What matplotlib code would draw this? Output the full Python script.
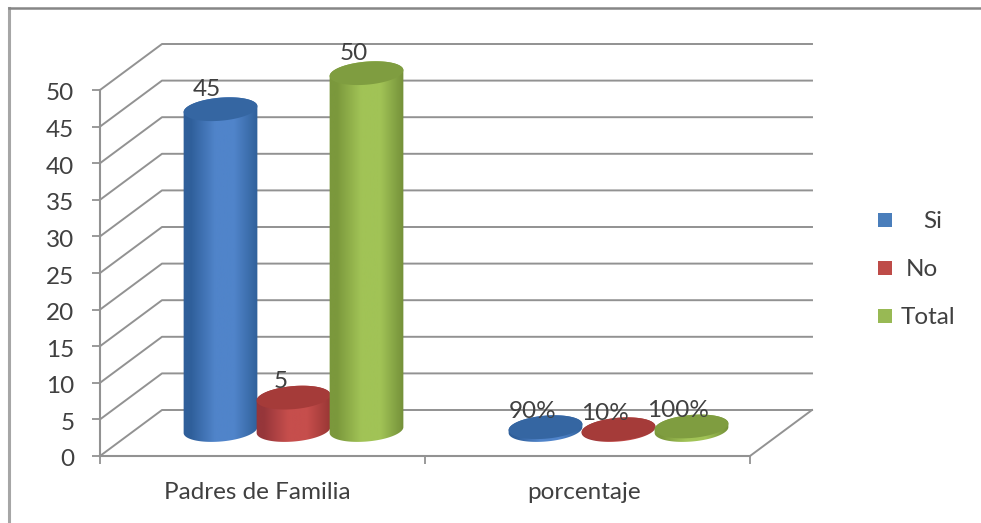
import numpy as np
import matplotlib
matplotlib.use("Agg")
import matplotlib.pyplot as plt
from matplotlib.colors import LinearSegmentedColormap
from matplotlib.lines import Line2D
from matplotlib.patches import Polygon, Rectangle
from matplotlib.transforms import ScaledTranslation

plt.rcParams["font.family"] = ["Lato", "DejaVu Sans"]

categories = ["Padres de Familia", "porcentaje"]
series_names = ["Si", "No", "Total"]
si_values = [45, 0.9]
no_values = [5, 0.1]
total_values = [50, 1.0]
si_labels = ["45", "90%"]
no_labels = ["5", "10%"]
total_labels = ["50", "100%"]
y_ticks = list(range(0, 55, 5))

W, H = 981, 523
text_color = "#404040"
grid_color = "#929292"

# colours: edge, middle, edge, top ellipse, legend
blue = ["#2f5f9a", "#5084ca", "#2f5f98", "#3566a2", "#4a7ebb"]
red = ["#96363a", "#c64e4c", "#963533", "#a53b39", "#be4b48"]
green = ["#7b983c", "#a1c356", "#728e38", "#7f9d40", "#98b954"]

fig = plt.figure(figsize=(W / 100, H / 100), dpi=100)
fig.patch.set_facecolor("white")
# the picture only shows the top and left sides of the chart border
fig.add_artist(Line2D([9 / W, 9 / W], [1 - 8 / H, 1 - 521 / H], transform=fig.transFigure,
                      color="#a6a6a6", linewidth=2.2))
fig.add_artist(Line2D([9 / W, 1], [1 - 8 / H, 1 - 8 / H], transform=fig.transFigure,
                      color="#868686", linewidth=1.8))

# front plane of the 3d box
ax = fig.add_axes([100 / W, 1 - 456 / H, 650 / W, 366 / H])
ax.set_xlim(0, 2)
ax.set_ylim(0, 50)
ax.patch.set_alpha(0)
px_x = 2 / 650   # data units for one pixel
px_y = 50 / 366
depth_x = 62 * px_x
depth_y = 46 * px_y

for s in ["top", "right"]:
    ax.spines[s].set_visible(False)
for s in ["left", "bottom"]:
    ax.spines[s].set_color(grid_color)
    ax.spines[s].set_linewidth(1.5)
ax.spines["bottom"].set_bounds(0, 2)
ax.set_yticks(y_ticks)
ax.set_xticks([0, 1, 2])
ax.set_xticklabels([])
ax.set_xticks([0.485, 1.49], categories, minor=True)
ax.tick_params(axis="y", length=5.5, width=1.3, color=grid_color, labelcolor=text_color,
               labelsize=17.5, pad=13)
ax.tick_params(axis="x", which="major", length=6, width=1.3, color=grid_color)
ax.tick_params(axis="x", which="minor", length=0, labelcolor=text_color, labelsize=17.5, pad=19)
shift_down = ScaledTranslation(0, -2 / 100, fig.dpi_scale_trans)
for lab in ax.get_yticklabels():
    lab.set_transform(lab.get_transform() + shift_down)

# back wall and side lines
for v in y_ticks:
    ax.plot([0, depth_x, 2 + depth_x], [v, v + depth_y, v + depth_y], color=grid_color,
            linewidth=1.4, clip_on=False, zorder=1)
ax.plot([2, 2 + depth_x], [0, depth_y], color=grid_color, linewidth=1.4, clip_on=False, zorder=1)


def ellipse(cx, cy, t):
    # tilted ellipse, sizes given in pixels then turned into data units
    a, b, tilt = 37, 11.5, np.radians(5)
    ex = a * np.cos(t) * np.cos(tilt) - b * np.sin(t) * np.sin(tilt)
    ey = a * np.cos(t) * np.sin(tilt) + b * np.sin(t) * np.cos(tilt)
    return cx + ex * px_x, cy + ey * px_y


def cylinder(cx, value, cols):
    # the columns stand a little short of the gridlines in the original
    base_y = depth_y / 2 + 3 * px_y
    top_y = base_y + value * 0.985 - 0.5
    if top_y < base_y + 0.1:
        top_y = base_y + 0.1
    t1 = np.linspace(np.pi, 2 * np.pi, 60)
    t2 = np.linspace(0, np.pi, 60)
    xb, yb = ellipse(cx, base_y, t1)
    xt, yt = ellipse(cx, top_y, t2)
    body = Polygon(np.column_stack([np.r_[xb, xt], np.r_[yb, yt]]), closed=True, facecolor="none",
                   edgecolor="none", transform=ax.transData, clip_on=False, zorder=3)
    ax.add_patch(body)
    cmap = LinearSegmentedColormap.from_list("c", [(0, cols[0]), (0.1, cols[0]), (0.42, cols[1]),
                                                   (0.68, cols[1]), (1, cols[2])])
    grad = np.linspace(0, 1, 128).reshape(1, -1)
    w = 38 * px_x
    im = ax.imshow(grad, cmap=cmap, aspect="auto", zorder=3,
                   extent=[cx - w, cx + w, base_y - 14 * px_y, top_y + 14 * px_y])
    im.set_clip_box(fig.bbox)
    im.set_clip_path(body)
    t = np.linspace(0, 2 * np.pi, 120)
    xe, ye = ellipse(cx, top_y, t)
    ax.fill(xe, ye, color=cols[3], clip_on=False, zorder=3, linewidth=0)
    return top_y


all_values = [si_values, no_values, total_values]
all_labels = [si_labels, no_labels, total_labels]
all_cols = [blue, red, green]
offsets = [-73 * px_x, 0, 73 * px_x]

for i in range(len(series_names)):
    for j in range(len(categories)):
        cx = j + 0.5 + depth_x / 2 + offsets[i]
        val = all_values[i][j]
        top = cylinder(cx, val, all_cols[i])
        ax.annotate(all_labels[i][j], (cx, top),
                    xytext=(-9.5, (16 + val * 0.08) * 0.72), textcoords="offset points",
                    ha="center", va="center", fontsize=17.5, color=text_color, zorder=5,
                    annotation_clip=False)
ax.set_xlim(0, 2)
ax.set_ylim(0, 50)

# legend
legend_y = [220, 268, 316]
legend_x = [933, 922, 928]
for i, name in enumerate(series_names):
    fig.add_artist(Rectangle((878 / W, 1 - (legend_y[i] + 7) / H), 14 / W, 14 / H,
                             transform=fig.transFigure, facecolor=all_cols[i][4], edgecolor="none"))
    fig.text(legend_x[i] / W, 1 - (legend_y[i] + 2) / H, name, ha="center", va="center",
             fontsize=17.5, color=text_color)

fig.savefig("out.png", dpi=100)
